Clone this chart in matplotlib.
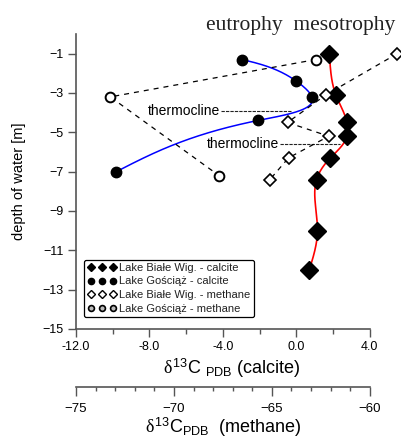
import matplotlib
matplotlib.use('Agg')
import matplotlib.pyplot as plt
import numpy as np
from matplotlib.ticker import MultipleLocator
from matplotlib.lines import Line2D

plt.rcParams['font.family'] = ['Liberation Sans', 'DejaVu Sans']
plt.rcParams['mathtext.fontset'] = 'custom'
plt.rcParams['mathtext.rm'] = 'Liberation Sans'
plt.rcParams['mathtext.it'] = 'Liberation Serif'

# calcite, Lake Biale Wig. (depth, d13C)
bw_calc_y = [-1.0, -3.1, -4.5, -5.2, -6.3, -7.4, -10.0, -12.0]
bw_calc_x = [1.8, 2.15, 2.75, 2.75, 1.85, 1.1, 1.15, 0.7]

# calcite, Lake Gosciaz
go_calc_y = [-1.3, -2.4, -3.2, -4.4, -7.0]
go_calc_x = [-2.95, 0.0, 0.85, -2.1, -9.8]

# methane, Lake Biale Wig.
bw_meth_y = [-1.0, -3.1, -4.5, -5.2, -6.3, -7.4]
bw_meth_x = [-58.6, -62.25, -64.2, -62.1, -64.15, -65.1]

# methane, Lake Gosciaz
go_meth_y = [-1.3, -3.2, -7.2]
go_meth_x = [-62.75, -73.25, -67.7]

# thermocline marks
thermo_y = [-3.9, -5.6]
thermo_txt_x = [-8.1, -4.9]
thermo_end_x = [-0.25, 2.4]


def spline(xs, ys, n=300):
    # parametric natural cubic spline (chord length)
    xs = np.asarray(xs, float)
    ys = np.asarray(ys, float)
    t = np.concatenate([[0], np.cumsum(np.hypot(np.diff(xs), np.diff(ys)))])
    tt = np.linspace(t[0], t[-1], n)
    out = []
    for v in (xs, ys):
        m = len(t)
        h = np.diff(t)
        A = np.zeros((m, m))
        b = np.zeros(m)
        A[0, 0] = A[-1, -1] = 1
        for i in range(1, m - 1):
            A[i, i - 1] = h[i - 1]
            A[i, i] = 2 * (h[i - 1] + h[i])
            A[i, i + 1] = h[i]
            b[i] = 6 * ((v[i + 1] - v[i]) / h[i] - (v[i] - v[i - 1]) / h[i - 1])
        M = np.linalg.solve(A, b)
        k = np.clip(np.searchsorted(t, tt) - 1, 0, m - 2)
        hk = h[k]
        a = t[k + 1] - tt
        c = tt - t[k]
        s = (M[k] * a**3 + M[k + 1] * c**3) / (6 * hk) \
            + (v[k] / hk - M[k] * hk / 6) * a + (v[k + 1] / hk - M[k + 1] * hk / 6) * c
        out.append(s)
    return out


fig = plt.figure(figsize=(4.02, 4.41), dpi=100)
ax = fig.add_axes([0.189, 0.254, 0.731, 0.669])

ax.set_xlim(-12, 4)
ax.set_ylim(-15, 0)
ax.xaxis.set_minor_locator(MultipleLocator(2))
ax.set_xticks([-12, -8, -4, 0, 4])
ax.set_xticklabels(['-12.0', '-8.0', '-4.0', '0.0', '4.0'])
ax.set_yticks([-1, -3, -5, -7, -9, -11, -13, -15])
ax.spines['top'].set_visible(False)
ax.spines['right'].set_visible(False)
for s in ('left', 'bottom'):
    ax.spines[s].set_color('#555555')
    ax.spines[s].set_linewidth(1.2)
ax.tick_params(axis='x', which='major', length=6, width=1, color='#555555', labelsize=9, pad=3)
ax.tick_params(axis='x', which='minor', length=3.5, width=1, color='#555555')
ax.tick_params(axis='y', length=6, width=1, color='#555555', labelsize=9, pad=3)
ax.set_ylabel('depth of water [m]', fontsize=10.5, labelpad=12)
ax.set_xlabel(r'$\delta^{13}\mathrm{C}\ {}_{\mathrm{PDB}}$ (calcite)', fontsize=13, labelpad=1)
ax.xaxis.set_label_coords(0.53, -0.095)

# calcite curves
sx, sy = spline(bw_calc_x, bw_calc_y)
ax.plot(sx, sy, color='#ff0000', lw=1.2, zorder=2)
sx, sy = spline(go_calc_x, go_calc_y)
ax.plot(sx, sy, color='#0000ff', lw=1.1, zorder=2)
ax.plot(bw_calc_x, bw_calc_y, ls='none', marker='D', ms=9.5, color='black', zorder=4)
ax.plot(go_calc_x, go_calc_y, ls='none', marker='o', ms=7.5, color='black', zorder=4)

# thermocline
for ty, tx, te in zip(thermo_y, thermo_txt_x, thermo_end_x):
    ax.text(tx, ty, 'thermocline', fontsize=10, va='center', ha='left', zorder=3)
    ax.plot([tx + 4.0, te], [ty, ty], color='#222222', lw=0.8, ls=(0, (3, 1)), zorder=1)

# methane axis
axm = ax.twiny()
axm.set_xlim(-75, -60)
axm.set_ylim(-15, 0)
axm.xaxis.set_ticks_position('bottom')
axm.xaxis.set_label_position('bottom')
axm.spines['bottom'].set_position(('outward', 42))
for s in ('top', 'right', 'left'):
    axm.spines[s].set_visible(False)
axm.spines['bottom'].set_color('#555555')
axm.spines['bottom'].set_linewidth(1.2)
axm.set_xticks([-75, -70, -65, -60])
axm.xaxis.set_minor_locator(MultipleLocator(1))
axm.tick_params(axis='x', which='major', length=6.5, width=1, color='#555555', labelsize=9.5, pad=5)
axm.tick_params(axis='x', which='minor', length=3, width=1, color='#555555')
axm.set_xlabel(r'$\delta^{13}\mathrm{C}_{\mathrm{PDB}}$  (methane)', fontsize=13, labelpad=0)

axm.plot(bw_meth_x, bw_meth_y, ls=(0, (4, 4)), lw=0.9, color='black', clip_on=False, zorder=2)
axm.plot(bw_meth_x, bw_meth_y, ls='none', marker='D', ms=6, mfc='white', mec='black',
         mew=1.2, clip_on=False, zorder=4)
axm.plot(go_meth_x, go_meth_y, ls=(0, (4, 4)), lw=0.9, color='black', clip_on=False, zorder=2)
axm.plot(go_meth_x, go_meth_y, ls='none', marker='o', ms=7, mfc='white', mec='black',
         mew=1.4, clip_on=False, zorder=4)

handles = [
    Line2D([], [], ls='none', marker='D', ms=3.8, color='black'),
    Line2D([], [], ls='none', marker='o', ms=4.5, color='black'),
    Line2D([], [], ls='none', marker='D', ms=3.6, mfc='white', mec='black', mew=1.0),
    Line2D([], [], ls='none', marker='o', ms=4.2, mfc='#bbbbbb', mec='black', mew=1.2),
]
labels = ['Lake Białe Wig. - calcite', 'Lake Gościąż - calcite',
          'Lake Białe Wig. - methane', 'Lake Gościąż - methane']
leg = axm.legend(handles, labels, loc='lower left', bbox_to_anchor=(0.027, 0.041),
                 borderaxespad=0, fontsize=8, numpoints=3,
                 handlelength=2.6, handletextpad=0.3, labelspacing=0.32,
                 borderpad=0.3, fancybox=True, framealpha=1, edgecolor='black')
leg.get_frame().set_linewidth(0.9)
for txt in leg.get_texts():
    txt.set_color('#222222')

fig.text(0.749, 1 - 30 / 441, 'eutrophy  mesotrophy', fontsize=15.5, ha='center',
         va='baseline', family=['Liberation Serif', 'DejaVu Serif'], color='#222222')

fig.savefig('out.png', dpi=100)
